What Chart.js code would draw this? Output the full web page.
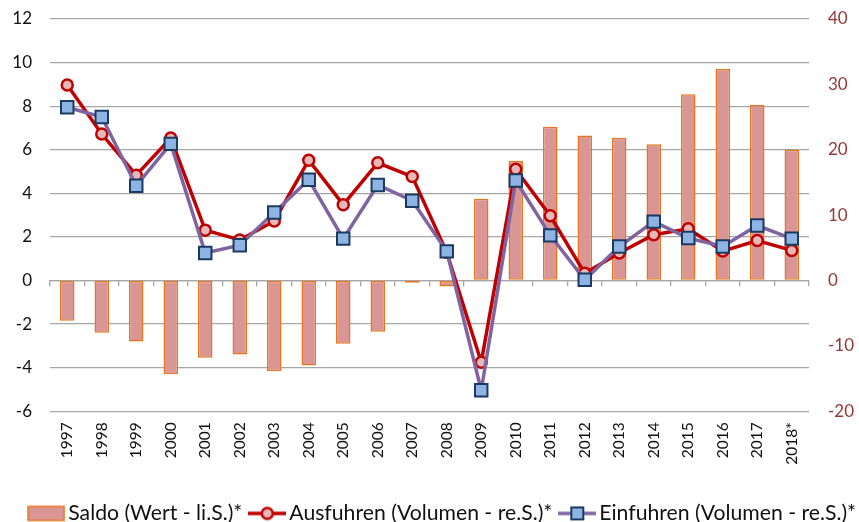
<!DOCTYPE html>
<html>
<head>
<meta charset="utf-8">
<script src="https://cdn.jsdelivr.net/npm/chart.js@4"></script>
<style>
  html, body { margin: 0; padding: 0; background: #fff; }
  #wrap { width: 859px; height: 522px; }
</style>
</head>
<body>
<div id="wrap"><canvas id="chart-handel"></canvas></div>
<script>
// Jahre und Werte
var jahre = ["1997", "1998", "1999", "2000", "2001", "2002", "2003", "2004", "2005", "2006", "2007",
  "2008", "2009", "2010", "2011", "2012", "2013", "2014", "2015", "2016", "2017", "2018*"];
var saldo = [-1.85, -2.4, -2.8, -4.3, -3.55, -3.4, -4.15, -3.9, -2.9, -2.35, -0.1,
  -0.28, 3.75, 5.5, 7.05, 6.65, 6.55, 6.25, 8.55, 9.7, 8.05, 6.0];
var ausfuhren = [29.9, 22.4, 16.1, 21.8, 7.7, 6.2, 9.1, 18.4, 11.6, 18.0, 15.9,
  4.3, -12.5, 17.0, 9.9, 1.1, 4.2, 7.0, 7.9, 4.5, 6.1, 4.6];
var einfuhren = [26.5, 25.0, 14.5, 20.9, 4.2, 5.4, 10.4, 15.4, 6.4, 14.6, 12.2,
  4.45, -16.8, 15.3, 6.9, 0.1, 5.2, 9.0, 6.5, 5.2, 8.4, 6.4];
var ticksLinks = [-6, -4, -2, 0, 2, 4, 6, 8, 10, 12];
var ticksRechts = [-20, -10, 0, 10, 20, 30, 40];

var saldoFill = "#D99694", saldoRand = "#E8761E";
var ausRot = "#C00000", ausPunkt = "#E6B9B8";
var einLila = "#8064A2", einPunkt = "#8DB4E2", einRand = "#1B3A61";
var gitter = "#A6A6A6";

Chart.defaults.font.family = "Lato, 'Open Sans', sans-serif";
Chart.defaults.color = "#111";

// kleine Symbole fuer die Legende
function symbol(art) {
  var c = document.createElement("canvas");
  c.width = 38; c.height = 18;
  var g = c.getContext("2d");
  if (art === "bar") {
    g.fillStyle = saldoFill;
    g.strokeStyle = saldoRand;
    g.lineWidth = 1.5;
    g.fillRect(1, 2, 36, 14);
    g.strokeRect(1, 2, 36, 14);
    return c;
  }
  g.lineWidth = 3.5;
  g.strokeStyle = art === "circle" ? ausRot : einLila;
  g.beginPath(); g.moveTo(0, 9); g.lineTo(38, 9); g.stroke();
  if (art === "circle") {
    g.fillStyle = ausPunkt; g.strokeStyle = ausRot; g.lineWidth = 2.5;
    g.beginPath(); g.arc(19, 9, 5.5, 0, Math.PI * 2); g.fill(); g.stroke();
  } else {
    g.fillStyle = einPunkt; g.strokeStyle = einRand; g.lineWidth = 2;
    g.fillRect(13, 3, 12, 12); g.strokeRect(13, 3, 12, 12);
  }
  return c;
}

// Legende etwas nach rechts und unten schieben
var legendeVersatz = {
  id: "legendeVersatz",
  afterLayout: function(ch) {
    if (ch.legend) {
      ch.legend.left += 16; ch.legend.right += 16;
      ch.legend.top += 12; ch.legend.bottom += 12;
    }
  }
};

// Achsen ohne zusaetzlichen Rand oben/unten
function yBreite(s) {
  s.width = 50;
  s.paddingTop = 0;
  s.paddingBottom = 0;
}

var ctx = document.getElementById("chart-handel").getContext("2d");

var chart = new Chart(ctx, {
  type: "bar",
  data: {
    labels: jahre,
    datasets: [
      {
        type: "line",
        label: "Einfuhren (Volumen - re.S.)*",
        data: einfuhren,
        yAxisID: "y2",
        order: 1,
        borderColor: einLila,
        borderWidth: 3.5,
        tension: 0,
        pointStyle: "rect",
        pointRadius: 8.8,
        pointBackgroundColor: einPunkt,
        pointBorderColor: einRand,
        pointBorderWidth: 2
      },
      {
        type: "line",
        label: "Ausfuhren (Volumen - re.S.)*",
        data: ausfuhren,
        yAxisID: "y2",
        order: 2,
        borderColor: ausRot,
        borderWidth: 3.5,
        tension: 0,
        pointStyle: "circle",
        pointRadius: 5.5,
        pointBackgroundColor: ausPunkt,
        pointBorderColor: ausRot,
        pointBorderWidth: 2.5
      },
      {
        label: "Saldo (Wert - li.S.)*",
        data: saldo,
        yAxisID: "y",
        order: 3,
        backgroundColor: saldoFill,
        borderColor: saldoRand,
        borderWidth: 1.5,
        borderSkipped: false,
        barPercentage: 0.42,
        categoryPercentage: 1
      }
    ]
  },
  plugins: [legendeVersatz],
  options: {
    responsive: true,
    maintainAspectRatio: false,
    animation: false,
    layout: { padding: { top: 19, left: 0, right: 0, bottom: 0 } },
    plugins: {
      tooltip: { enabled: false },
      legend: {
        position: "bottom",
        labels: {
          usePointStyle: true,
          pointStyleWidth: 22.8,
          padding: 13.6,
          color: "#111",
          font: { size: 21.2 },
          generateLabels: function(ch) {
            var ds = ch.data.datasets;
            return [
              { text: ds[2].label, pointStyle: symbol("bar"), datasetIndex: 2, fontColor: "#111" },
              { text: ds[1].label, pointStyle: symbol("circle"), datasetIndex: 1, fontColor: "#111" },
              { text: ds[0].label, pointStyle: symbol("rect"), datasetIndex: 0, fontColor: "#111" }
            ];
          }
        }
      }
    },
    scales: {
      x: {
        position: "bottom",
        offset: true,
        grid: { display: false, drawTicks: false },
        border: { display: false },
        ticks: { minRotation: 90, maxRotation: 90, autoSkip: false, padding: 11, font: { size: 15.5 } },
        afterFit: function(s) { s.height = 66; }
      },
      x0: {
        type: "category",
        position: { y: 0 },
        offset: true,
        grid: { offset: true, drawOnChartArea: false, drawTicks: true, tickLength: 5, color: gitter, lineWidth: 1.3 },
        border: { display: true, color: gitter, width: 1.3 },
        ticks: { display: false }
      },
      y: {
        position: "left",
        min: -6,
        max: 12,
        afterBuildTicks: function(s) { s.ticks = ticksLinks.map(function(v) { return { value: v }; }); },
        grid: { color: gitter, lineWidth: 1.3, drawTicks: false },
        border: { display: false },
        ticks: { padding: 18, font: { size: 17 }, color: "#111" },
        afterFit: yBreite
      },
      y2: {
        position: "right",
        min: -20,
        max: 40,
        afterBuildTicks: function(s) { s.ticks = ticksRechts.map(function(v) { return { value: v }; }); },
        grid: { drawOnChartArea: false, drawTicks: false },
        border: { display: false },
        ticks: { padding: 19, font: { size: 17 }, color: "#953735" },
        afterFit: yBreite
      }
    }
  }
});
</script>
</body>
</html>
